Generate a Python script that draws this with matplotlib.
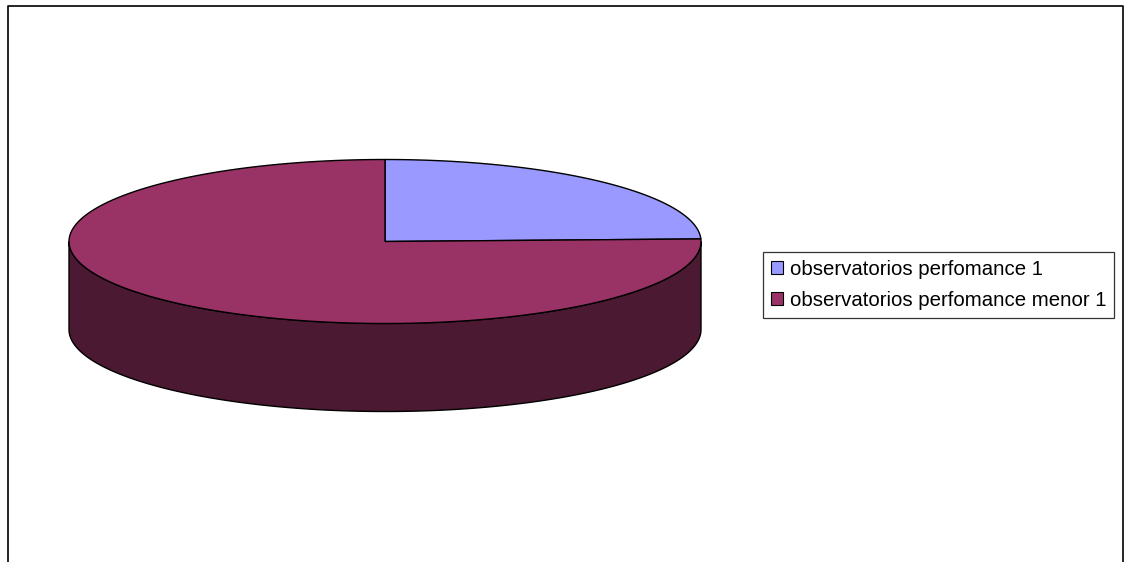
import numpy as np
import matplotlib
matplotlib.use("Agg")
import matplotlib.pyplot as plt
from matplotlib.patches import Polygon, Patch

plt.rcParams['font.family'] = ['Liberation Sans', 'DejaVu Sans']

# datos del grafico
etiquetas = ['observatorios perfomance 1', 'observatorios perfomance menor 1']
valores = [24.5, 75.5]
colores = ['#9999FF', '#993366']
colores_lado = ['#4C4C80', '#4C1933']

# geometria del pastel 3D (pixeles)
cx, cy = 385, 241.5
rx, ry = 316, 82
prof = 88

fig = plt.figure(figsize=(11.25, 5.62), dpi=100)
ax = fig.add_axes([0, 0, 1, 1])
ax.set_xlim(0, 1125)
ax.set_ylim(562, 0)
ax.axis('off')


def arco(t0, t1, dy=0):
    t = np.radians(np.linspace(t0, t1, 200))
    return np.column_stack([cx + rx * np.cos(t), cy - ry * np.sin(t) + dy])


# angulos de cada porcion (en sentido horario desde arriba)
total = sum(valores)
inicio = 90.0
angulos = []
for v in valores:
    fin = inicio - 360.0 * v / total
    angulos.append((fin, inicio))
    inicio = fin

# lado frontal
for (a0, a1), c in zip(angulos, colores_lado):
    for k in (-360, 0, 360):
        s0 = max(a0 + k, 180)
        s1 = min(a1 + k, 360)
        if s1 > s0:
            arriba = arco(s0, s1)
            abajo = arco(s1, s0, prof)
            ax.add_patch(Polygon(np.vstack([arriba, abajo]), closed=True,
                                 facecolor=c, edgecolor='black', lw=1.0))

# tapa superior
for (a0, a1), c in zip(angulos, colores):
    pts = np.vstack([[cx, cy], arco(a0, a1)])
    ax.add_patch(Polygon(pts, closed=True, facecolor=c,
                         edgecolor='black', lw=1.0))

# marco
ax.plot([8, 8, 1123, 1123], [562, 6, 6, 562], color='black', lw=1.2)

handles = [Patch(facecolor=c, edgecolor='black', lw=0.8) for c in colores]
leg = fig.legend(handles, etiquetas, loc='center left',
                 bbox_to_anchor=(763 / 1125, 1 - 285 / 562),
                 fontsize=14.7, frameon=True, fancybox=False,
                 edgecolor='black', handlelength=0.6, handleheight=0.6,
                 handletextpad=0.3, borderpad=0.4, labelspacing=0.6,
                 borderaxespad=0)
leg.get_frame().set_linewidth(0.9)

fig.savefig('out.png', dpi=100)
